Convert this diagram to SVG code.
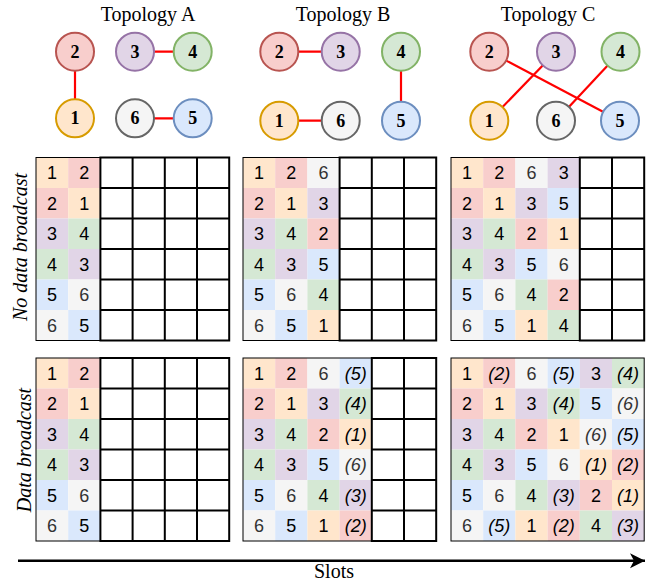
<svg xmlns="http://www.w3.org/2000/svg" width="654" height="583" viewBox="0 0 654 583">
<defs>
<style>
.n1{fill:#ffe6cc}.n2{fill:#f8cecc}.n3{fill:#e1d5e7}.n4{fill:#d5e8d4}.n5{fill:#dae8fc}.n6{fill:#f5f5f5}
.k1{fill:#ffe6cc;stroke:#d79b00}.k2{fill:#f8cecc;stroke:#b85450}.k3{fill:#e1d5e7;stroke:#9673a6}.k4{fill:#d5e8d4;stroke:#82b366}.k5{fill:#dae8fc;stroke:#6c8ebf}.k6{fill:#f5f5f5;stroke:#666666}
circle{stroke-width:2}
.nl{font-family:"Liberation Serif","Times New Roman",serif;font-size:18px;font-weight:bold;text-anchor:middle;fill:#000}
.ttl{font-family:"Liberation Serif","Times New Roman",serif;font-size:20px;text-anchor:middle;fill:#000}
.vl{font-family:"Liberation Serif","Times New Roman",serif;font-size:20px;font-style:italic;text-anchor:middle;fill:#000}
.edge{stroke:#ff0000;stroke-width:2.2;fill:none}
.t{font-family:"Liberation Sans",Arial,sans-serif;font-size:18px;text-anchor:middle;fill:#000}
.g{fill:#333333}
.i{font-style:italic}
.ob{fill:none;stroke:#000;stroke-width:1}
.eb{fill:#fff;stroke:#000;stroke-width:2}
.gl{fill:none;stroke:#000;stroke-width:2}
</style>
<marker id="ah" markerUnits="userSpaceOnUse" markerWidth="18" markerHeight="18" viewBox="0 0 18 18" refX="16" refY="9" orient="auto">
<path d="M16,9 L1,1.5 L5,9 L1,16.5 Z" fill="#000"/>
</marker>
</defs>
<rect width="654" height="583" fill="#fff"/>

<g id="titles">
<text class="ttl" x="148" y="21">Topology A</text>
<text class="ttl" x="343" y="21">Topology B</text>
<text class="ttl" x="548" y="21">Topology C</text>
</g>

<g id="connectors">
<line class="edge" x1="75" y1="51.7" x2="75" y2="118.3"/>
<line class="edge" x1="135" y1="51.7" x2="192.7" y2="51.7"/>
<line class="edge" x1="135" y1="118.3" x2="192.7" y2="118.3"/>
<line class="edge" x1="279.3" y1="51.7" x2="340.7" y2="51.7"/>
<line class="edge" x1="401" y1="51.7" x2="401" y2="120.7"/>
<line class="edge" x1="279.3" y1="120.7" x2="340.7" y2="120.7"/>
<line class="edge" x1="489.3" y1="51.7" x2="620" y2="120.7"/>
<line class="edge" x1="556" y1="51.7" x2="489.3" y2="120.7"/>
<line class="edge" x1="620.5" y1="51.7" x2="556" y2="120.7"/>
</g>

<g id="topoA">
<g id="A2"><circle class="k2" cx="75" cy="51.7" r="19"/><text class="nl" x="75" y="57.8">2</text></g>
<g id="A3"><circle class="k3" cx="135" cy="51.7" r="19"/><text class="nl" x="135" y="57.8">3</text></g>
<g id="A4"><circle class="k4" cx="192.7" cy="51.7" r="19"/><text class="nl" x="192.7" y="57.8">4</text></g>
<g id="A1"><circle class="k1" cx="75" cy="118.3" r="19"/><text class="nl" x="75" y="124.4">1</text></g>
<g id="A6"><circle class="k6" cx="135" cy="118.3" r="19"/><text class="nl" x="135" y="124.4" fill="#333">6</text></g>
<g id="A5"><circle class="k5" cx="192.7" cy="118.3" r="19"/><text class="nl" x="192.7" y="124.4">5</text></g>
</g>
<g id="topoB">
<g id="B2"><circle class="k2" cx="279.3" cy="51.7" r="19"/><text class="nl" x="279.3" y="57.8">2</text></g>
<g id="B3"><circle class="k3" cx="340.7" cy="51.7" r="19"/><text class="nl" x="340.7" y="57.8">3</text></g>
<g id="B4"><circle class="k4" cx="401" cy="51.7" r="19"/><text class="nl" x="401" y="57.8">4</text></g>
<g id="B1"><circle class="k1" cx="279.3" cy="120.7" r="19"/><text class="nl" x="279.3" y="126.8">1</text></g>
<g id="B6"><circle class="k6" cx="340.7" cy="120.7" r="19"/><text class="nl" x="340.7" y="126.8">6</text></g>
<g id="B5"><circle class="k5" cx="401" cy="120.7" r="19"/><text class="nl" x="401" y="126.8">5</text></g>
</g>
<g id="topoC">
<g id="C2"><circle class="k2" cx="489.3" cy="51.7" r="19"/><text class="nl" x="489.3" y="57.8">2</text></g>
<g id="C3"><circle class="k3" cx="556" cy="51.7" r="19"/><text class="nl" x="556" y="57.8">3</text></g>
<g id="C4"><circle class="k4" cx="620.5" cy="51.7" r="19"/><text class="nl" x="620.5" y="57.8">4</text></g>
<g id="C1"><circle class="k1" cx="489.3" cy="120.7" r="19"/><text class="nl" x="489.3" y="126.8">1</text></g>
<g id="C6"><circle class="k6" cx="556" cy="120.7" r="19"/><text class="nl" x="556" y="126.8">6</text></g>
<g id="C5"><circle class="k5" cx="620" cy="120.7" r="19"/><text class="nl" x="620" y="126.8">5</text></g>
</g>

<g id="row-labels">
<text class="vl" transform="translate(27,247) rotate(-90)">No data broadcast</text>
<text class="vl" transform="translate(31,450) rotate(-90)">Data broadcast</text>
</g>

<!-- Top A -->
<g id="gridTopA" transform="translate(36,157.5)">
<rect class="n1" x="0" y="0" width="32.2" height="30.5"/><rect class="n2" x="32.2" y="0" width="32.2" height="30.5"/>
<rect class="n2" x="0" y="30.5" width="32.2" height="30.5"/><rect class="n1" x="32.2" y="30.5" width="32.2" height="30.5"/>
<rect class="n3" x="0" y="61" width="32.2" height="30.5"/><rect class="n4" x="32.2" y="61" width="32.2" height="30.5"/>
<rect class="n4" x="0" y="91.5" width="32.2" height="30.5"/><rect class="n3" x="32.2" y="91.5" width="32.2" height="30.5"/>
<rect class="n5" x="0" y="122" width="32.2" height="30.5"/><rect class="n6" x="32.2" y="122" width="32.2" height="30.5"/>
<rect class="n6" x="0" y="152.5" width="32.2" height="30.5"/><rect class="n5" x="32.2" y="152.5" width="32.2" height="30.5"/>
<rect class="ob" x="0" y="0" width="193.2" height="183"/>
<rect class="eb" x="64.4" y="0" width="128.8" height="183"/>
<path class="gl" d="M96.6,0V183M128.8,0V183M161,0V183M64.4,30.5H193.2M64.4,61H193.2M64.4,91.5H193.2M64.4,122H193.2M64.4,152.5H193.2"/>
<text class="t" x="16.1" y="21.7">1</text><text class="t" x="48.3" y="21.7">2</text>
<text class="t" x="16.1" y="52.2">2</text><text class="t" x="48.3" y="52.2">1</text>
<text class="t" x="16.1" y="82.7">3</text><text class="t" x="48.3" y="82.7">4</text>
<text class="t" x="16.1" y="113.2">4</text><text class="t" x="48.3" y="113.2">3</text>
<text class="t" x="16.1" y="143.7">5</text><text class="t g" x="48.3" y="143.7">6</text>
<text class="t g" x="16.1" y="174.2">6</text><text class="t" x="48.3" y="174.2">5</text>
</g>

<!-- Top B -->
<g id="gridTopB" transform="translate(243,157.5)">
<rect class="n1" x="0" y="0" width="32.2" height="30.5"/><rect class="n2" x="32.2" y="0" width="32.2" height="30.5"/><rect class="n6" x="64.4" y="0" width="32.2" height="30.5"/>
<rect class="n2" x="0" y="30.5" width="32.2" height="30.5"/><rect class="n1" x="32.2" y="30.5" width="32.2" height="30.5"/><rect class="n3" x="64.4" y="30.5" width="32.2" height="30.5"/>
<rect class="n3" x="0" y="61" width="32.2" height="30.5"/><rect class="n4" x="32.2" y="61" width="32.2" height="30.5"/><rect class="n2" x="64.4" y="61" width="32.2" height="30.5"/>
<rect class="n4" x="0" y="91.5" width="32.2" height="30.5"/><rect class="n3" x="32.2" y="91.5" width="32.2" height="30.5"/><rect class="n5" x="64.4" y="91.5" width="32.2" height="30.5"/>
<rect class="n5" x="0" y="122" width="32.2" height="30.5"/><rect class="n6" x="32.2" y="122" width="32.2" height="30.5"/><rect class="n4" x="64.4" y="122" width="32.2" height="30.5"/>
<rect class="n6" x="0" y="152.5" width="32.2" height="30.5"/><rect class="n5" x="32.2" y="152.5" width="32.2" height="30.5"/><rect class="n1" x="64.4" y="152.5" width="32.2" height="30.5"/>
<rect class="ob" x="0" y="0" width="193.2" height="183"/>
<rect class="eb" x="96.6" y="0" width="96.6" height="183"/>
<path class="gl" d="M128.8,0V183M161,0V183M96.6,30.5H193.2M96.6,61H193.2M96.6,91.5H193.2M96.6,122H193.2M96.6,152.5H193.2"/>
<text class="t" x="16.1" y="21.7">1</text><text class="t" x="48.3" y="21.7">2</text><text class="t g" x="80.5" y="21.7">6</text>
<text class="t" x="16.1" y="52.2">2</text><text class="t" x="48.3" y="52.2">1</text><text class="t" x="80.5" y="52.2">3</text>
<text class="t" x="16.1" y="82.7">3</text><text class="t" x="48.3" y="82.7">4</text><text class="t" x="80.5" y="82.7">2</text>
<text class="t" x="16.1" y="113.2">4</text><text class="t" x="48.3" y="113.2">3</text><text class="t" x="80.5" y="113.2">5</text>
<text class="t" x="16.1" y="143.7">5</text><text class="t g" x="48.3" y="143.7">6</text><text class="t" x="80.5" y="143.7">4</text>
<text class="t g" x="16.1" y="174.2">6</text><text class="t" x="48.3" y="174.2">5</text><text class="t" x="80.5" y="174.2">1</text>
</g>

<!-- Top C -->
<g id="gridTopC" transform="translate(451,157.5)">
<rect class="n1" x="0" y="0" width="32.2" height="30.5"/><rect class="n2" x="32.2" y="0" width="32.2" height="30.5"/><rect class="n6" x="64.4" y="0" width="32.2" height="30.5"/><rect class="n3" x="96.6" y="0" width="32.2" height="30.5"/>
<rect class="n2" x="0" y="30.5" width="32.2" height="30.5"/><rect class="n1" x="32.2" y="30.5" width="32.2" height="30.5"/><rect class="n3" x="64.4" y="30.5" width="32.2" height="30.5"/><rect class="n5" x="96.6" y="30.5" width="32.2" height="30.5"/>
<rect class="n3" x="0" y="61" width="32.2" height="30.5"/><rect class="n4" x="32.2" y="61" width="32.2" height="30.5"/><rect class="n2" x="64.4" y="61" width="32.2" height="30.5"/><rect class="n1" x="96.6" y="61" width="32.2" height="30.5"/>
<rect class="n4" x="0" y="91.5" width="32.2" height="30.5"/><rect class="n3" x="32.2" y="91.5" width="32.2" height="30.5"/><rect class="n5" x="64.4" y="91.5" width="32.2" height="30.5"/><rect class="n6" x="96.6" y="91.5" width="32.2" height="30.5"/>
<rect class="n5" x="0" y="122" width="32.2" height="30.5"/><rect class="n6" x="32.2" y="122" width="32.2" height="30.5"/><rect class="n4" x="64.4" y="122" width="32.2" height="30.5"/><rect class="n2" x="96.6" y="122" width="32.2" height="30.5"/>
<rect class="n6" x="0" y="152.5" width="32.2" height="30.5"/><rect class="n5" x="32.2" y="152.5" width="32.2" height="30.5"/><rect class="n1" x="64.4" y="152.5" width="32.2" height="30.5"/><rect class="n4" x="96.6" y="152.5" width="32.2" height="30.5"/>
<rect class="ob" x="0" y="0" width="193.2" height="183"/>
<rect class="eb" x="128.8" y="0" width="64.4" height="183"/>
<path class="gl" d="M161,0V183M128.8,30.5H193.2M128.8,61H193.2M128.8,91.5H193.2M128.8,122H193.2M128.8,152.5H193.2"/>
<text class="t" x="16.1" y="21.7">1</text><text class="t" x="48.3" y="21.7">2</text><text class="t g" x="80.5" y="21.7">6</text><text class="t" x="112.7" y="21.7">3</text>
<text class="t" x="16.1" y="52.2">2</text><text class="t" x="48.3" y="52.2">1</text><text class="t" x="80.5" y="52.2">3</text><text class="t" x="112.7" y="52.2">5</text>
<text class="t" x="16.1" y="82.7">3</text><text class="t" x="48.3" y="82.7">4</text><text class="t" x="80.5" y="82.7">2</text><text class="t" x="112.7" y="82.7">1</text>
<text class="t" x="16.1" y="113.2">4</text><text class="t" x="48.3" y="113.2">3</text><text class="t" x="80.5" y="113.2">5</text><text class="t g" x="112.7" y="113.2">6</text>
<text class="t" x="16.1" y="143.7">5</text><text class="t g" x="48.3" y="143.7">6</text><text class="t" x="80.5" y="143.7">4</text><text class="t" x="112.7" y="143.7">2</text>
<text class="t g" x="16.1" y="174.2">6</text><text class="t" x="48.3" y="174.2">5</text><text class="t" x="80.5" y="174.2">1</text><text class="t" x="112.7" y="174.2">4</text>
</g>

<!-- Bottom A -->
<g id="gridBotA" transform="translate(36,358)">
<rect class="n1" x="0" y="0" width="32.2" height="30.5"/><rect class="n2" x="32.2" y="0" width="32.2" height="30.5"/>
<rect class="n2" x="0" y="30.5" width="32.2" height="30.5"/><rect class="n1" x="32.2" y="30.5" width="32.2" height="30.5"/>
<rect class="n3" x="0" y="61" width="32.2" height="30.5"/><rect class="n4" x="32.2" y="61" width="32.2" height="30.5"/>
<rect class="n4" x="0" y="91.5" width="32.2" height="30.5"/><rect class="n3" x="32.2" y="91.5" width="32.2" height="30.5"/>
<rect class="n5" x="0" y="122" width="32.2" height="30.5"/><rect class="n6" x="32.2" y="122" width="32.2" height="30.5"/>
<rect class="n6" x="0" y="152.5" width="32.2" height="30.5"/><rect class="n5" x="32.2" y="152.5" width="32.2" height="30.5"/>
<rect class="ob" x="0" y="0" width="193.2" height="183"/>
<rect class="eb" x="64.4" y="0" width="128.8" height="183"/>
<path class="gl" d="M96.6,0V183M128.8,0V183M161,0V183M64.4,30.5H193.2M64.4,61H193.2M64.4,91.5H193.2M64.4,122H193.2M64.4,152.5H193.2"/>
<text class="t" x="16.1" y="21.7">1</text><text class="t" x="48.3" y="21.7">2</text>
<text class="t" x="16.1" y="52.2">2</text><text class="t" x="48.3" y="52.2">1</text>
<text class="t" x="16.1" y="82.7">3</text><text class="t" x="48.3" y="82.7">4</text>
<text class="t" x="16.1" y="113.2">4</text><text class="t" x="48.3" y="113.2">3</text>
<text class="t" x="16.1" y="143.7">5</text><text class="t g" x="48.3" y="143.7">6</text>
<text class="t g" x="16.1" y="174.2">6</text><text class="t" x="48.3" y="174.2">5</text>
</g>

<!-- Bottom B -->
<g id="gridBotB" transform="translate(243,358)">
<rect class="n1" x="0" y="0" width="32.2" height="30.5"/><rect class="n2" x="32.2" y="0" width="32.2" height="30.5"/><rect class="n6" x="64.4" y="0" width="32.2" height="30.5"/><rect class="n5" x="96.6" y="0" width="32.2" height="30.5"/>
<rect class="n2" x="0" y="30.5" width="32.2" height="30.5"/><rect class="n1" x="32.2" y="30.5" width="32.2" height="30.5"/><rect class="n3" x="64.4" y="30.5" width="32.2" height="30.5"/><rect class="n4" x="96.6" y="30.5" width="32.2" height="30.5"/>
<rect class="n3" x="0" y="61" width="32.2" height="30.5"/><rect class="n4" x="32.2" y="61" width="32.2" height="30.5"/><rect class="n2" x="64.4" y="61" width="32.2" height="30.5"/><rect class="n1" x="96.6" y="61" width="32.2" height="30.5"/>
<rect class="n4" x="0" y="91.5" width="32.2" height="30.5"/><rect class="n3" x="32.2" y="91.5" width="32.2" height="30.5"/><rect class="n5" x="64.4" y="91.5" width="32.2" height="30.5"/><rect class="n6" x="96.6" y="91.5" width="32.2" height="30.5"/>
<rect class="n5" x="0" y="122" width="32.2" height="30.5"/><rect class="n6" x="32.2" y="122" width="32.2" height="30.5"/><rect class="n4" x="64.4" y="122" width="32.2" height="30.5"/><rect class="n3" x="96.6" y="122" width="32.2" height="30.5"/>
<rect class="n6" x="0" y="152.5" width="32.2" height="30.5"/><rect class="n5" x="32.2" y="152.5" width="32.2" height="30.5"/><rect class="n1" x="64.4" y="152.5" width="32.2" height="30.5"/><rect class="n2" x="96.6" y="152.5" width="32.2" height="30.5"/>
<rect class="ob" x="0" y="0" width="193.2" height="183"/>
<rect class="eb" x="128.8" y="0" width="64.4" height="183"/>
<path class="gl" d="M161,0V183M128.8,30.5H193.2M128.8,61H193.2M128.8,91.5H193.2M128.8,122H193.2M128.8,152.5H193.2"/>
<text class="t" x="16.1" y="21.7">1</text><text class="t" x="48.3" y="21.7">2</text><text class="t g" x="80.5" y="21.7">6</text><text class="t i" x="112.7" y="21.7">(5)</text>
<text class="t" x="16.1" y="52.2">2</text><text class="t" x="48.3" y="52.2">1</text><text class="t" x="80.5" y="52.2">3</text><text class="t i" x="112.7" y="52.2">(4)</text>
<text class="t" x="16.1" y="82.7">3</text><text class="t" x="48.3" y="82.7">4</text><text class="t" x="80.5" y="82.7">2</text><text class="t i" x="112.7" y="82.7">(1)</text>
<text class="t" x="16.1" y="113.2">4</text><text class="t" x="48.3" y="113.2">3</text><text class="t" x="80.5" y="113.2">5</text><text class="t i g" x="112.7" y="113.2">(6)</text>
<text class="t" x="16.1" y="143.7">5</text><text class="t g" x="48.3" y="143.7">6</text><text class="t" x="80.5" y="143.7">4</text><text class="t i" x="112.7" y="143.7">(3)</text>
<text class="t g" x="16.1" y="174.2">6</text><text class="t" x="48.3" y="174.2">5</text><text class="t" x="80.5" y="174.2">1</text><text class="t i" x="112.7" y="174.2">(2)</text>
</g>

<!-- Bottom C -->
<g id="gridBotC" transform="translate(451,358)">
<rect class="n1" x="0" y="0" width="32.2" height="30.5"/><rect class="n2" x="32.2" y="0" width="32.2" height="30.5"/><rect class="n6" x="64.4" y="0" width="32.2" height="30.5"/><rect class="n5" x="96.6" y="0" width="32.2" height="30.5"/><rect class="n3" x="128.8" y="0" width="32.2" height="30.5"/><rect class="n4" x="161" y="0" width="32.2" height="30.5"/>
<rect class="n2" x="0" y="30.5" width="32.2" height="30.5"/><rect class="n1" x="32.2" y="30.5" width="32.2" height="30.5"/><rect class="n3" x="64.4" y="30.5" width="32.2" height="30.5"/><rect class="n4" x="96.6" y="30.5" width="32.2" height="30.5"/><rect class="n5" x="128.8" y="30.5" width="32.2" height="30.5"/><rect class="n6" x="161" y="30.5" width="32.2" height="30.5"/>
<rect class="n3" x="0" y="61" width="32.2" height="30.5"/><rect class="n4" x="32.2" y="61" width="32.2" height="30.5"/><rect class="n2" x="64.4" y="61" width="32.2" height="30.5"/><rect class="n1" x="96.6" y="61" width="32.2" height="30.5"/><rect class="n6" x="128.8" y="61" width="32.2" height="30.5"/><rect class="n5" x="161" y="61" width="32.2" height="30.5"/>
<rect class="n4" x="0" y="91.5" width="32.2" height="30.5"/><rect class="n3" x="32.2" y="91.5" width="32.2" height="30.5"/><rect class="n5" x="64.4" y="91.5" width="32.2" height="30.5"/><rect class="n6" x="96.6" y="91.5" width="32.2" height="30.5"/><rect class="n1" x="128.8" y="91.5" width="32.2" height="30.5"/><rect class="n2" x="161" y="91.5" width="32.2" height="30.5"/>
<rect class="n5" x="0" y="122" width="32.2" height="30.5"/><rect class="n6" x="32.2" y="122" width="32.2" height="30.5"/><rect class="n4" x="64.4" y="122" width="32.2" height="30.5"/><rect class="n3" x="96.6" y="122" width="32.2" height="30.5"/><rect class="n2" x="128.8" y="122" width="32.2" height="30.5"/><rect class="n1" x="161" y="122" width="32.2" height="30.5"/>
<rect class="n6" x="0" y="152.5" width="32.2" height="30.5"/><rect class="n5" x="32.2" y="152.5" width="32.2" height="30.5"/><rect class="n1" x="64.4" y="152.5" width="32.2" height="30.5"/><rect class="n2" x="96.6" y="152.5" width="32.2" height="30.5"/><rect class="n4" x="128.8" y="152.5" width="32.2" height="30.5"/><rect class="n3" x="161" y="152.5" width="32.2" height="30.5"/>
<rect class="ob" x="0" y="0" width="193.2" height="183"/>
<text class="t" x="16.1" y="21.7">1</text><text class="t i" x="48.3" y="21.7">(2)</text><text class="t g" x="80.5" y="21.7">6</text><text class="t i" x="112.7" y="21.7">(5)</text><text class="t" x="144.9" y="21.7">3</text><text class="t i" x="177.1" y="21.7">(4)</text>
<text class="t" x="16.1" y="52.2">2</text><text class="t" x="48.3" y="52.2">1</text><text class="t" x="80.5" y="52.2">3</text><text class="t i" x="112.7" y="52.2">(4)</text><text class="t" x="144.9" y="52.2">5</text><text class="t i g" x="177.1" y="52.2">(6)</text>
<text class="t" x="16.1" y="82.7">3</text><text class="t" x="48.3" y="82.7">4</text><text class="t" x="80.5" y="82.7">2</text><text class="t" x="112.7" y="82.7">1</text><text class="t i g" x="144.9" y="82.7">(6)</text><text class="t i" x="177.1" y="82.7">(5)</text>
<text class="t" x="16.1" y="113.2">4</text><text class="t" x="48.3" y="113.2">3</text><text class="t" x="80.5" y="113.2">5</text><text class="t g" x="112.7" y="113.2">6</text><text class="t i" x="144.9" y="113.2">(1)</text><text class="t i" x="177.1" y="113.2">(2)</text>
<text class="t" x="16.1" y="143.7">5</text><text class="t g" x="48.3" y="143.7">6</text><text class="t" x="80.5" y="143.7">4</text><text class="t i" x="112.7" y="143.7">(3)</text><text class="t" x="144.9" y="143.7">2</text><text class="t i" x="177.1" y="143.7">(1)</text>
<text class="t g" x="16.1" y="174.2">6</text><text class="t i" x="48.3" y="174.2">(5)</text><text class="t" x="80.5" y="174.2">1</text><text class="t i" x="112.7" y="174.2">(2)</text><text class="t" x="144.9" y="174.2">4</text><text class="t i" x="177.1" y="174.2">(3)</text>
</g>

<g id="slots-axis">
<line x1="18" y1="560.7" x2="645" y2="560.7" stroke="#000" stroke-width="2.5" marker-end="url(#ah)"/>
<text class="ttl" x="334" y="577.5">Slots</text>
</g>
</svg>
